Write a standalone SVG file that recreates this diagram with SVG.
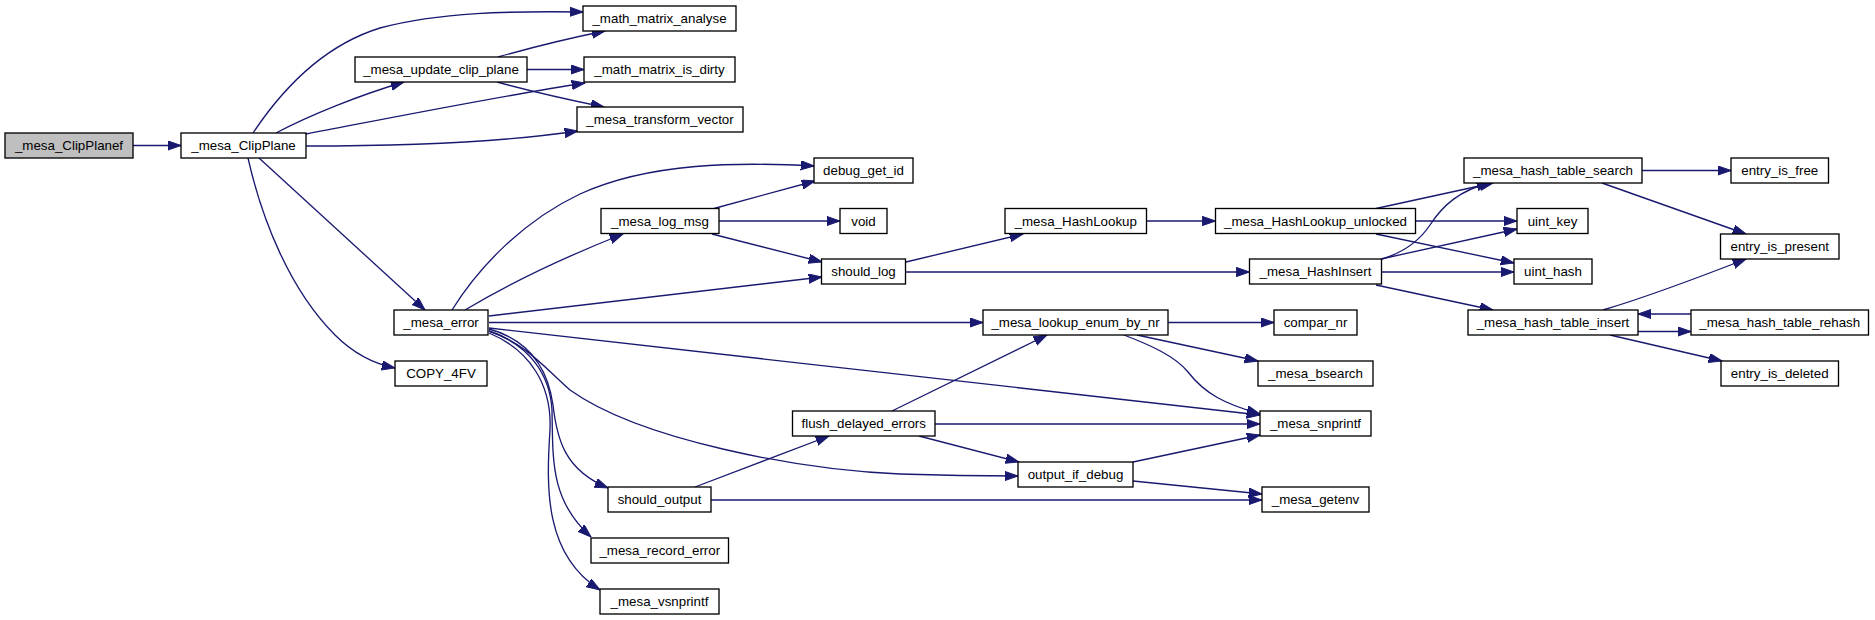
<svg xmlns="http://www.w3.org/2000/svg" width="1875" height="620" viewBox="0 0 1875 620">
<style>
.n rect{fill:#fff;stroke:#000;stroke-width:1.33}
.n.root rect{fill:#bfbfbf}
.n text{font-family:"Liberation Sans",Arial,Helvetica,sans-serif;font-size:13.33px;text-anchor:middle;fill:#000}
.e path{fill:none;stroke:#191970;stroke-width:1.33;marker-end:url(#a)}
</style>
<defs>
<marker id="a" markerUnits="userSpaceOnUse" markerWidth="14" markerHeight="10" refX="13.3" refY="4.65" orient="auto" viewBox="0 0 14 10">
<path d="M0,0 L13.3,4.65 L0,9.3 Z" fill="#191970" stroke="#191970" stroke-width="1"/>
</marker>
</defs>
<rect width="1875" height="620" fill="#fff"/>
<g id="edges" class="e">
<path d="M133,145.5 L181,145.5"/>
<path d="M253,133 C285,85 325,45 380,28 C440,12 510,11 583,12"/>
<path d="M276,133 C310,115 360,95 404,82"/>
<path d="M306,134 C400,116 500,96 585,83"/>
<path d="M306,146 C420,146 510,141 578,131"/>
<path d="M498,57 C530,48 570,38 605,31"/>
<path d="M527,69.5 L584,69.5"/>
<path d="M497,82 C530,91 570,100 604,107"/>
<path d="M259,158 L425,310"/>
<path d="M248,158 C262,220 290,290 335,335 C355,355 375,364 395,368"/>
<path d="M452,310 C480,265 525,220 580,194 C650,162 740,162 814,166"/>
<path d="M465,310 C510,283 570,255 623,234"/>
<path d="M489,316 L822,277"/>
<path d="M489,322.5 L983,322.5"/>
<path d="M489,328 L1260,415"/>
<path d="M489,331 C525,343 545,368 570,390 C640,440 800,470 900,474 C960,476 990,476 1018,476"/>
<path d="M489,329 C530,340 548,370 553,405 C557,440 565,470 608,488"/>
<path d="M489,331 C530,345 550,375 552,410 C553,460 550,500 591,537"/>
<path d="M489,333 C530,350 552,385 550,430 C546,490 545,555 600,590"/>
<path d="M714,208.5 L815,181"/>
<path d="M719,221 L840,221"/>
<path d="M712,234 L822,262"/>
<path d="M906,262 L1023,234"/>
<path d="M906,272 L1249.5,272"/>
<path d="M1146.5,221 L1215.5,221"/>
<path d="M1376,208.5 L1493,183"/>
<path d="M1416,221 L1517,221"/>
<path d="M1376,234 L1514,263"/>
<path d="M1382,259 C1405,252 1420,240 1430,225 C1443,205 1460,190 1490,183"/>
<path d="M1381,259 L1517,229"/>
<path d="M1382,272 L1514,272"/>
<path d="M1376,285 L1493,310"/>
<path d="M1642,170.5 L1731,170.5"/>
<path d="M1602,183 L1746,234"/>
<path d="M1603,310 C1650,296 1705,275 1746,259"/>
<path d="M1638,331.5 L1691,331.5"/>
<path d="M1610,335 L1722,361"/>
<path d="M1691,314 L1638,314"/>
<path d="M1168,322.5 L1274,322.5"/>
<path d="M1137,335 L1258,361"/>
<path d="M1124,335 C1150,345 1175,356 1188,372 C1205,394 1225,404 1260,414"/>
<path d="M892,411 L1047,335"/>
<path d="M935,424 L1260,424"/>
<path d="M919,436 L1019,462"/>
<path d="M695,487 L829,436"/>
<path d="M711,500 L1262,500"/>
<path d="M1133,462 L1260,435"/>
<path d="M1133,481 L1262,494"/>
</g>
<g id="n_ClipPlanef" class="n root"><rect x="5" y="133" width="128" height="25"/><text x="69" y="150">_mesa_ClipPlanef</text></g>
<g id="n_ClipPlane" class="n"><rect x="181" y="133" width="125" height="25"/><text x="243.5" y="150">_mesa_ClipPlane</text></g>
<g id="n_analyse" class="n"><rect x="583" y="6" width="153" height="25"/><text x="659.5" y="23">_math_matrix_analyse</text></g>
<g id="n_update" class="n"><rect x="355" y="57" width="172" height="25"/><text x="441" y="74">_mesa_update_clip_plane</text></g>
<g id="n_dirty" class="n"><rect x="584" y="57" width="151" height="25"/><text x="659.5" y="74">_math_matrix_is_dirty</text></g>
<g id="n_transform" class="n"><rect x="577" y="107" width="166" height="25"/><text x="660" y="124">_mesa_transform_vector</text></g>
<g id="n_error" class="n"><rect x="394" y="310" width="94" height="25"/><text x="441" y="327">_mesa_error</text></g>
<g id="n_copy" class="n"><rect x="395" y="361" width="92" height="25"/><text x="441" y="378">COPY_4FV</text></g>
<g id="n_debug" class="n"><rect x="814" y="158" width="99" height="25"/><text x="863.5" y="175">debug_get_id</text></g>
<g id="n_logmsg" class="n"><rect x="601" y="208.5" width="118" height="25"/><text x="660" y="225.5">_mesa_log_msg</text></g>
<g id="n_void" class="n"><rect x="840" y="208.5" width="47" height="25"/><text x="863.5" y="225.5">void</text></g>
<g id="n_shouldlog" class="n"><rect x="821.5" y="259" width="84" height="25"/><text x="863.5" y="276">should_log</text></g>
<g id="n_hashlookup" class="n"><rect x="1005" y="208.5" width="141.5" height="25"/><text x="1075.75" y="225.5">_mesa_HashLookup</text></g>
<g id="n_unlocked" class="n"><rect x="1215.5" y="208.5" width="200" height="25"/><text x="1315.5" y="225.5">_mesa_HashLookup_unlocked</text></g>
<g id="n_search" class="n"><rect x="1464" y="158" width="178" height="25"/><text x="1553" y="175">_mesa_hash_table_search</text></g>
<g id="n_free" class="n"><rect x="1731" y="158" width="97.5" height="25"/><text x="1779.75" y="175">entry_is_free</text></g>
<g id="n_uintkey" class="n"><rect x="1517" y="208.5" width="71" height="25"/><text x="1552.5" y="225.5">uint_key</text></g>
<g id="n_present" class="n"><rect x="1720.5" y="234" width="118.5" height="25"/><text x="1779.75" y="251">entry_is_present</text></g>
<g id="n_hashinsert" class="n"><rect x="1249.5" y="259" width="132" height="25"/><text x="1315.5" y="276">_mesa_HashInsert</text></g>
<g id="n_uinthash" class="n"><rect x="1514" y="259" width="78" height="25"/><text x="1553" y="276">uint_hash</text></g>
<g id="n_tinsert" class="n"><rect x="1468" y="310" width="170" height="25"/><text x="1553" y="327">_mesa_hash_table_insert</text></g>
<g id="n_rehash" class="n"><rect x="1691" y="310" width="177.5" height="25"/><text x="1779.75" y="327">_mesa_hash_table_rehash</text></g>
<g id="n_deleted" class="n"><rect x="1721" y="361" width="117.5" height="25"/><text x="1779.75" y="378">entry_is_deleted</text></g>
<g id="n_lookupenum" class="n"><rect x="983" y="310" width="185" height="25"/><text x="1075.5" y="327">_mesa_lookup_enum_by_nr</text></g>
<g id="n_compar" class="n"><rect x="1274" y="310" width="83" height="25"/><text x="1315.5" y="327">compar_nr</text></g>
<g id="n_bsearch" class="n"><rect x="1258" y="361" width="115" height="25"/><text x="1315.5" y="378">_mesa_bsearch</text></g>
<g id="n_snprintf" class="n"><rect x="1260" y="411" width="111" height="25"/><text x="1315.5" y="428">_mesa_snprintf</text></g>
<g id="n_flush" class="n"><rect x="792.5" y="411" width="142.5" height="25"/><text x="863.75" y="428">flush_delayed_errors</text></g>
<g id="n_outdebug" class="n"><rect x="1018" y="462" width="115" height="25"/><text x="1075.5" y="479">output_if_debug</text></g>
<g id="n_getenv" class="n"><rect x="1262" y="487" width="107" height="25"/><text x="1315.5" y="504">_mesa_getenv</text></g>
<g id="n_shouldout" class="n"><rect x="608" y="487" width="103" height="25"/><text x="659.5" y="504">should_output</text></g>
<g id="n_record" class="n"><rect x="591" y="538" width="137.5" height="25"/><text x="659.75" y="555">_mesa_record_error</text></g>
<g id="n_vsnprintf" class="n"><rect x="600" y="589" width="119" height="25"/><text x="659.5" y="606">_mesa_vsnprintf</text></g>
</svg>
